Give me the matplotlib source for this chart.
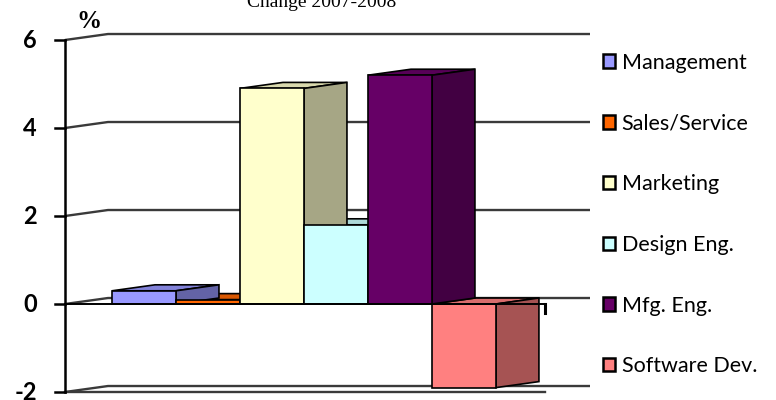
import numpy as np
import matplotlib
matplotlib.use('Agg')
import matplotlib.pyplot as plt
from matplotlib.patches import Polygon, Patch

categories = ['Management', 'Sales/Service', 'Marketing', 'Design Eng.', 'Mfg. Eng.', 'Software Dev.']
values = [0.3, 0.1, 4.9, 1.8, 5.2, -1.9]
colors = ['#9999FF', '#FF6600', '#FFFFCC', '#CCFFFF', '#660066', '#FF8080']
yticks = [-2, 0, 2, 4, 6]
title = 'Change 2007-2008'

# fake 3d look: depth offset in data units
DX, DY = 0.672, 0.136
X0, XEND = -0.734, 6.766   # front axis position and right end of the floor edge
XR = 7.47                  # right end of the back wall gridlines


def shade(c, f):
    rgb = np.array(matplotlib.colors.to_rgb(c))
    return tuple(rgb * f)


fig = plt.figure(figsize=(7.76, 4.0), dpi=100, facecolor='w')
ax = fig.add_axes([65 / 776, 8 / 400, (590 - 65) / 776, 352 / 400])
ax.set_xlim(X0, XR)
ax.set_ylim(-2, 6)
ax.axis('off')

# back wall gridlines + left wall slant
for t in yticks:
    ax.plot([X0, X0 + DX, XR], [t, t + DY, t + DY], color='#3a3a3a', lw=1.7,
            clip_on=False, zorder=1, solid_capstyle='butt')
    ax.plot([X0 - 0.16, X0], [t, t], color='k', lw=1.8, clip_on=False, zorder=6)
    ax.text(X0 - 0.44, t, str(t), ha='right', va='center', fontsize=17,
            fontweight='bold', family='Lato')

# front floor edges
ax.plot([X0, XEND], [-2, -2], color='#3a3a3a', lw=1.7, clip_on=False, zorder=1)
ax.plot([X0, XEND], [0, 0], color='k', lw=1.4, clip_on=False, zorder=6)
ax.plot([XEND, XEND], [0, -0.2], color='k', lw=2.2, clip_on=False, zorder=6)
ax.plot([X0, X0], [-2, 6], color='k', lw=1.8, clip_on=False, zorder=6)

# bars
for i, (v, c) in enumerate(zip(values, colors)):
    x1, x2 = i, i + 1
    lo, hi = min(0, v), max(0, v)
    front = Polygon([(x1, lo), (x2, lo), (x2, hi), (x1, hi)], closed=True,
                    facecolor=c, edgecolor='k', lw=1.2, zorder=5)
    side = Polygon([(x2, lo), (x2 + DX, lo + DY), (x2 + DX, hi + DY), (x2, hi)],
                   closed=True, facecolor=shade(c, 0.65), edgecolor='k', lw=1.2, zorder=4)
    top = Polygon([(x1, hi), (x2, hi), (x2 + DX, hi + DY), (x1 + DX, hi + DY)],
                  closed=True, facecolor=shade(c, 0.85), edgecolor='k', lw=1.2, zorder=3)
    for p in (top, side, front):
        p.set_clip_on(False)
        ax.add_patch(p)

fig.text(89 / 776, 1 - 21 / 400, '%', ha='center', va='center', fontsize=18,
         fontweight='bold', family='Liberation Serif')
fig.text(322 / 776, 1 - 7 / 400, title, ha='center', va='baseline', fontsize=14,
         family='Liberation Serif')

handles = [Patch(facecolor=c, edgecolor='k', lw=1.8) for c in colors]
fig.legend(handles, categories, loc='upper left', bbox_to_anchor=(592 / 776, 1 - 42 / 400),
           frameon=False, prop={'family': 'Lato', 'size': 15.5}, handlelength=0.58,
           handleheight=0.58, handletextpad=0.3, labelspacing=1.89, borderpad=0)

plt.savefig('out.png', dpi=100)
